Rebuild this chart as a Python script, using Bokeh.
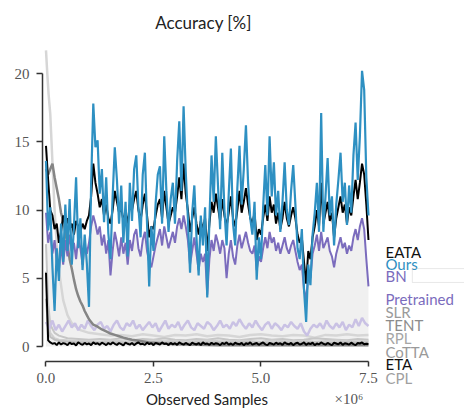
import numpy as np
from bokeh.plotting import figure
from bokeh.models import Label, FixedTicker, Range1d, BoxAnnotation
from bokeh.embed import file_html
from bokeh.resources import INLINE

# ---------------- data ----------------
ours = [13.6, 8.5, 10.2, 5.8, 2.6, 7.2, 4.8, 9.0, 6.2, 10.4,
        7.0, 10.8, 6.0, 8.8, 12.4, 7.2, 9.4, 5.6, 8.2, 6.1,
        2.9, 12.0, 17.8, 14.6, 15.1, 11.2, 13.0, 9.1, 12.4, 8.3,
        6.4, 11.0, 14.6, 12.2, 9.0, 11.8, 7.6, 10.6, 6.6, 12.0,
        9.2, 13.0, 14.0, 10.2, 8.0, 12.6, 14.2, 9.0, 4.4, 8.8,
        7.0, 10.5, 12.6, 13.2, 9.0, 15.4, 11.4, 8.4, 10.8, 12.0,
        9.0, 13.6, 16.5, 11.4, 17.6, 12.8, 9.4, 5.4, 9.8, 11.8,
        8.0, 5.2, 9.6, 7.4, 10.2, 3.6, 9.2, 14.0, 10.6, 15.4,
        11.8, 8.6, 14.2, 10.0, 7.4, 11.2, 14.5, 9.0, 7.4, 11.6,
        14.7, 10.4, 13.0, 16.2, 12.0, 9.4, 8.2, 10.6, 4.9, 8.0,
        6.4, 10.2, 13.3, 9.6, 15.4, 11.0, 13.5, 9.6, 11.4, 8.4,
        10.6, 13.5, 10.0, 8.9, 11.4, 13.3, 10.4, 7.2, 6.4, 8.6,
        4.2, 1.8, 6.0, 4.5, 8.2, 9.8, 12.0, 8.4, 17.1, 8.4,
        11.0, 13.8, 9.6, 11.0, 7.4, 10.4, 12.2, 14.2, 10.6, 12.0,
        8.9, 11.8, 9.8, 14.0, 16.4, 12.2, 15.4, 20.2, 18.8, 12.4,
        9.6]

eata = [14.7, 12.2, 10.0, 9.6, 8.6, 9.0, 7.6, 8.4, 9.6, 8.8,
        9.4, 8.6, 9.0, 8.2, 9.2, 8.8, 8.4, 9.0, 8.6, 9.2,
        9.6, 11.0, 13.4, 12.0, 11.2, 10.2, 10.8, 9.6, 10.4, 9.4,
        9.0, 10.0, 11.4, 10.6, 9.8, 10.2, 9.2, 9.8, 9.0, 10.4,
        10.0, 10.8, 11.4, 10.0, 9.2, 10.4, 11.2, 9.6, 8.0, 8.8,
        8.6, 9.6, 10.4, 10.8, 9.4, 11.4, 10.2, 9.0, 9.6, 10.2,
        9.8, 11.0, 12.4, 10.8, 13.4, 11.2, 10.0, 8.4, 9.4, 10.2,
        9.0, 8.2, 9.2, 8.6, 9.4, 7.0, 9.0, 10.6, 9.8, 11.2,
        10.2, 9.2, 10.8, 9.6, 8.8, 9.8, 11.0, 9.4, 8.8, 10.0,
        11.4, 9.8, 10.6, 11.6, 10.4, 9.4, 9.0, 9.8, 7.8, 8.6,
        8.2, 9.4, 10.4, 9.2, 11.0, 9.8, 10.4, 9.0, 9.8, 8.6,
        9.4, 10.6, 9.4, 8.8, 9.6, 10.2, 9.4, 8.2, 7.6, 8.0,
        6.2, 4.6, 7.0, 6.4, 8.0, 8.8, 10.0, 8.8, 12.0, 9.0,
        9.8, 10.6, 9.2, 9.8, 8.0, 9.4, 10.2, 11.0, 9.8, 10.4,
        9.0, 10.2, 9.6, 11.0, 12.2, 10.8, 12.0, 13.4, 12.6, 10.4,
        7.8]

bn = [9.8, 7.6, 8.4, 6.8, 7.8, 6.2, 5.6, 7.4, 6.0, 7.8,
      6.6, 8.2, 7.0, 7.6, 6.4, 8.0, 7.2, 6.0, 7.4, 6.8,
      7.6, 8.8, 9.6, 9.0, 8.2, 8.8, 7.4, 8.2, 6.8, 7.8,
      5.2, 7.0, 8.4, 7.6, 6.6, 8.0, 6.8, 7.6, 6.0, 7.8,
      7.0, 8.2, 8.6, 7.2, 6.6, 7.8, 8.4, 7.0, 6.2, 5.8,
      6.6, 7.4, 8.0, 8.6, 7.4, 8.8, 8.0, 7.2, 7.8, 8.4,
      7.6, 8.8, 9.4, 8.6, 9.6, 8.8, 7.8, 6.0, 7.0, 8.0,
      6.8, 5.6, 6.8, 6.2, 6.8, 3.8, 6.4, 7.8, 7.0, 8.2,
      7.6, 6.8, 7.8, 7.2, 5.0, 6.8, 7.8, 6.6, 6.0, 7.4,
      8.2, 7.2, 7.8, 8.4, 7.6, 7.0, 6.8, 7.4, 5.6, 6.6,
      6.2, 7.2, 8.0, 7.2, 8.4, 7.6, 8.0, 7.0, 7.6, 6.8,
      7.4, 8.0, 7.2, 6.8, 7.4, 7.8, 7.0, 6.2, 5.6, 6.0,
      4.2, 3.4, 5.2, 5.0, 6.8, 7.4, 8.2, 7.0, 8.4, 7.2,
      7.6, 8.0, 7.0, 6.6, 5.8, 6.8, 7.4, 8.0, 7.2, 7.6,
      6.8, 7.4, 7.0, 8.0, 8.6, 7.8, 8.8, 9.4, 8.6, 6.4,
      4.4]

pretrained = [1.8, 1.3, 1.9, 1.2, 1.6, 1.1, 1.5, 1.9, 1.4, 1.7,
              1.2, 1.6, 1.3, 1.9, 1.5, 1.2, 1.6, 1.8, 1.3, 1.5,
              1.1, 1.6, 1.9, 1.4, 1.2, 1.7, 1.5, 1.9, 1.3, 1.6,
              1.2, 1.5, 1.8, 1.4, 1.7, 1.1, 1.5, 1.9, 1.3, 1.6,
              1.4, 1.8, 1.2, 1.6, 1.9, 1.4, 1.2, 1.7, 1.5, 1.3,
              1.8, 1.6, 1.2, 1.5, 1.9, 1.4, 1.6, 1.3, 1.8, 1.5,
              2.0, 1.6, 1.3, 1.7, 1.4, 1.9, 1.5, 1.2, 1.6, 1.8,
              1.3, 1.7, 1.5, 1.2, 1.6, 1.4, 1.8, 1.5, 1.3, 1.7,
              1.1, 0.8, 1.3, 1.6, 1.4, 1.7, 1.3, 1.9, 1.5, 1.3,
              1.7, 1.4, 1.8, 1.2, 1.6, 1.4, 2.0, 1.5, 2.1, 1.7,
              1.5]

eta = [5.4, 0.45, 0.3, 0.2, 0.25, 0.1, 0.3, 0.15, 0.25, 0.2,
       0.1, 0.28, 0.18, 0.22, 0.08, 0.3, 0.2, 0.12, 0.26, 0.16,
       0.22, 0.1, 0.3, 0.18, 0.24, 0.12, 0.28, 0.2, 0.1, 0.26,
       0.15, 0.3, 0.2, 0.12, 0.25, 0.18, 0.08, 0.28, 0.2, 0.14,
       0.26, 0.1, 0.22, 0.3, 0.16, 0.2, 0.12, 0.28, 0.18, 0.24,
       0.1, 0.26, 0.2, 0.14, 0.3, 0.18, 0.22, 0.1, 0.26, 0.16,
       0.24, 0.12, 0.3, 0.2, 0.14, 0.26, 0.18, 0.1, 0.28, 0.2,
       0.15, 0.25, 0.1, 0.3, 0.18, 0.22, 0.12, 0.28, 0.16, 0.24,
       0.2, 0.1, 0.26, 0.18, 0.3, 0.14, 0.22, 0.12, 0.28, 0.2,
       0.16, 0.26, 0.1, 0.24, 0.18, 0.3, 0.14, 0.2, 0.26, 0.12,
       0.22, 0.3, 0.16, 0.1, 0.26, 0.2, 0.14, 0.28, 0.18, 0.24,
       0.12, 0.3, 0.2, 0.16, 0.26, 0.1, 0.22, 0.28, 0.14, 0.2,
       0.3, 0.12, 0.24, 0.18, 0.28, 0.1, 0.22, 0.16, 0.3, 0.2,
       0.14, 0.26, 0.18, 0.1, 0.28, 0.22, 0.16, 0.3, 0.12, 0.24,
       0.2, 0.14, 0.28, 0.18, 0.1, 0.26, 0.22, 0.3, 0.16, 0.2,
       0.18]

cpl_x = [0, 0.05, 0.1, 0.15, 0.2, 0.25, 0.3, 0.35, 0.4, 0.45, 0.5, 0.55, 0.6,
         0.65, 0.7, 0.75, 0.8, 0.85, 0.9, 0.95, 1.0, 1.05, 1.1, 1.2, 1.3, 1.4,
         1.5, 1.6, 1.7, 1.8, 1.9, 2.0, 2.2, 2.4, 2.6, 2.8, 3.0, 3.5, 4.0, 4.5,
         5.0, 5.5, 6.0, 6.5, 7.0, 7.5]
cpl = [13.0, 12.6, 13.0, 13.4, 12.4, 11.6, 10.8, 9.8, 9.2, 8.4, 7.4, 6.4, 5.7,
       4.9, 4.2, 3.7, 3.3, 3.0, 2.6, 2.3, 2.0, 1.8, 1.6, 1.45, 1.25, 1.1,
       0.95, 0.85, 0.75, 0.65, 0.57, 0.5, 0.4, 0.3, 0.25, 0.2, 0.16, 0.12, 0.1,
       0.1, 0.09, 0.1, 0.09, 0.1, 0.09, 0.09]

tail_x = [1.25, 1.5, 1.75, 2.0, 2.25, 2.5, 2.75, 3.0, 3.25, 3.5, 3.75, 4.0, 4.25,
          4.5, 4.75, 5.0, 5.25, 5.5, 5.75, 6.0, 6.25, 6.5, 6.75, 7.0, 7.25, 7.5]
slr_x = [0, 0.03, 0.06, 0.1, 0.15, 0.2, 0.25, 0.3, 0.4, 0.5, 0.6, 0.8, 1.0] + tail_x
slr = [21.7, 20.0, 18.5, 17.0, 13.5, 10.0, 7.5, 5.6, 3.4, 2.3, 1.7, 1.2, 1.0,
       0.9, 0.8, 0.85, 0.75, 0.9, 0.8, 0.7, 0.85, 0.8, 0.9, 0.75, 0.85, 0.8,
       0.7, 0.85, 0.9, 0.8, 0.75, 0.85, 0.8, 0.65, 0.85, 0.8, 0.9, 0.8, 0.85]
early_x = [0, 0.05, 0.1, 0.2, 0.3, 0.5, 0.75, 1.0] + tail_x
tent = [7.5, 3.2, 1.6, 1.0, 0.8, 0.6, 0.55, 0.5,
        0.55, 0.5, 0.6, 0.45, 0.55, 0.5, 0.6, 0.5, 0.45, 0.55, 0.5, 0.6, 0.5,
        0.45, 0.55, 0.6, 0.5, 0.55, 0.45, 0.5, 0.6, 0.55, 0.5, 0.45, 0.55, 0.5]
rpl = [5.5, 2.0, 1.0, 0.6, 0.5, 0.45, 0.4, 0.4,
       0.35, 0.45, 0.4, 0.35, 0.4, 0.45, 0.38, 0.42, 0.35, 0.4, 0.45, 0.4, 0.36,
       0.42, 0.4, 0.35, 0.45, 0.4, 0.38, 0.42, 0.35, 0.4, 0.45, 0.4, 0.38, 0.4]
cotta = [3.5, 1.2, 0.7, 0.5, 0.4, 0.35, 0.3, 0.3,
         0.28, 0.32, 0.3, 0.26, 0.3, 0.32, 0.28, 0.3, 0.26, 0.3, 0.32, 0.3, 0.28,
         0.3, 0.32, 0.27, 0.3, 0.3, 0.28, 0.32, 0.3, 0.27, 0.3, 0.32, 0.28, 0.3]

x_ticks = [0, 2.5e6, 5e6, 7.5e6]
x_tick_labels = ["0.0", "2.5", "5.0", "7.5"]
y_ticks = [0, 5, 10, 15, 20]

labels = ["EATA", "Ours", "BN", "Pretrained", "SLR", "TENT", "RPL", "CoTTA", "ETA", "CPL"]
label_colors = ["#111111", "#2e90c2", "#7b6cbd", "#7b6cbd", "#9a9a9a", "#8c8c8c",
                "#a6a6a6", "#9a9a9a", "#111111", "#a0a0a0"]
label_y = [6.89, 6.01, 5.16, 3.48, 2.53, 1.58, 0.62, -0.37, -1.28, -2.31]

# ---------------- figure ----------------
def grid(vals):
    return np.linspace(0, 7.5e6, len(vals))

M = 1e6
p = figure(width=464, height=412, x_range=Range1d(-1.058e6, 9.733e6),
           y_range=Range1d(-4.835, 25.35), output_backend="svg",
           toolbar_location=None,
           min_border_left=0, min_border_right=0, min_border_top=0,
           min_border_bottom=0)
p.outline_line_color = None
p.xgrid.visible = False
p.ygrid.visible = False
p.background_fill_color = "white"

# title
p.add_layout(Label(x=3.663e6, y=23.74, text="Accuracy [%]", text_font="Lato",
                   text_font_size="17px", text_color="#222222",
                   text_baseline="middle", text_align="center"))

# shaded region under BN
p.varea(x=grid(bn), y1=np.zeros(len(bn)), y2=bn, fill_color="#f0f0f0")

# light gray baselines
p.line([v * M for v in slr_x], slr, line_color="#d6d6d6", line_width=2.5)
p.line([v * M for v in early_x], tent, line_color="#c6c6c6", line_width=2)
p.line([v * M for v in early_x], rpl, line_color="#d0d0d0", line_width=2)
p.line([v * M for v in early_x], cotta, line_color="#bfbfbf", line_width=2)

p.line(grid(pretrained), pretrained, line_color="#c9c1e4", line_width=2.5)
p.line([v * M for v in cpl_x], cpl, line_color="#858585", line_width=2.5)
p.line(grid(eta), eta, line_color="#000000", line_width=2)

p.line(grid(bn), bn, line_color="#7b6cbd", line_width=2)
p.line(grid(eata), eata, line_color="#000000", line_width=2)
p.line(grid(ours), ours, line_color="#2e90c2", line_width=2.2)

# axes (offset spines, drawn at fixed positions)
ax = p.xaxis[0]
ax.fixed_location = -1.1
ax.ticker = FixedTicker(ticks=x_ticks)
ax.major_label_overrides = {t: s for t, s in zip(x_ticks, x_tick_labels)}
ax.bounds = (0, 7.5e6)
ax.minor_tick_line_color = None
ax.major_tick_in = 0
ax.major_tick_out = 5
ax.axis_line_width = 1.5
ax.axis_line_color = "#333333"
ax.major_tick_line_color = "#333333"
ax.major_tick_line_width = 1.5
ax.major_label_text_font = "Liberation Serif"
ax.major_label_text_font_size = "15px"
ax.major_label_text_color = "#555555"
ax.major_label_standoff = 6
ax.axis_label = "Observed Samples"
ax.axis_label_text_font = "Lato"
ax.axis_label_text_font_size = "15px"
ax.axis_label_text_font_style = "normal"
ax.axis_label_text_color = "#222222"
ax.axis_label_standoff = 4

ay = p.yaxis[0]
ay.fixed_location = -0.0814e6
ay.ticker = FixedTicker(ticks=y_ticks)
ay.bounds = (0, 20)
ay.minor_tick_line_color = None
ay.major_tick_in = 0
ay.major_tick_out = 6
ay.axis_line_width = 1.5
ay.axis_line_color = "#333333"
ay.major_tick_line_color = "#333333"
ay.major_tick_line_width = 1.5
ay.major_label_text_font = "Liberation Serif"
ay.major_label_text_font_size = "15px"
ay.major_label_text_color = "#555555"
ay.major_label_standoff = 7

p.add_layout(Label(x=6.71e6, y=-3.88, text="×10⁶", text_font="Liberation Serif",
                   text_font_size="15px", text_color="#555555",
                   text_baseline="middle", text_align="left"))

for name, col, yy in zip(labels, label_colors, label_y):
    p.add_layout(Label(x=7.895e6, y=yy, text=name, text_font="Lato",
                       text_font_size="15px", text_color=col,
                       text_baseline="middle", text_align="left"))

p.add_layout(BoxAnnotation(left=8.52e6, right=9.9e6, bottom=4.69, top=5.71,
                           fill_color=None, line_color="#b5b5b5", line_width=1))

open("out.html", "w").write(file_html(p, INLINE))
